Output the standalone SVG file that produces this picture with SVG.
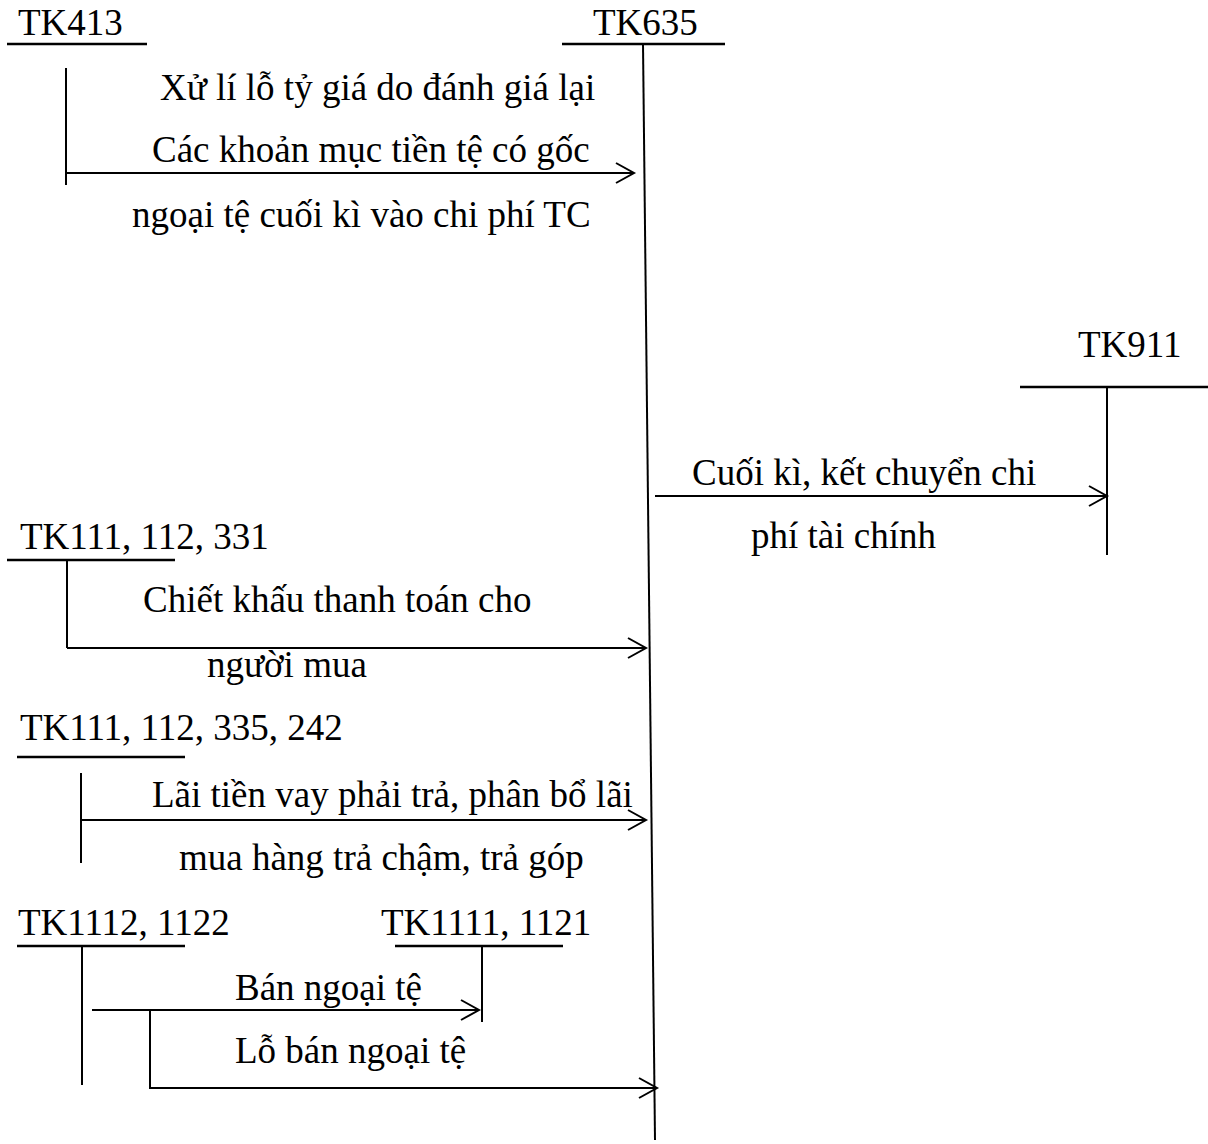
<svg xmlns="http://www.w3.org/2000/svg" width="1208" height="1144" viewBox="0 0 1208 1144">
<style>
text{font-family:"Liberation Serif","Times New Roman",serif;font-size:37px;fill:#000}
.ln{stroke:#000;stroke-width:2;fill:none}
.ul{stroke:#000;stroke-width:2.5;fill:none}
</style>
<defs>
<marker id="arr" markerUnits="userSpaceOnUse" markerWidth="24" markerHeight="24" viewBox="-20 -12 24 24" refX="0" refY="0" orient="auto">
<path d="M-18,-10 L0,0 L-18,10" fill="none" stroke="#000" stroke-width="2"/>
</marker>
</defs>
<rect width="1208" height="1144" fill="#fff"/>
<g id="tk413">
<text x="18" y="35">TK413</text>
<line class="ul" x1="7" y1="44" x2="147" y2="44"/>
<line class="ln" x1="66" y1="68" x2="66" y2="185"/>
</g>
<g id="tk635">
<text x="593" y="35">TK635</text>
<line class="ul" x1="562" y1="44" x2="725" y2="44"/>
<line class="ln" x1="643" y1="44" x2="655" y2="1140"/>
</g>
<g id="tk911">
<text x="1078" y="357">TK911</text>
<line class="ul" x1="1020" y1="387" x2="1208" y2="387"/>
<line class="ln" x1="1107" y1="387" x2="1107" y2="555"/>
</g>
<g id="tk111_112_331">
<text x="20" y="549">TK111, 112, 331</text>
<line class="ul" x1="7" y1="560" x2="175" y2="560"/>
<line class="ln" x1="67" y1="560" x2="67" y2="648"/>
</g>
<g id="tk111_112_335_242">
<text x="20" y="740">TK111, 112, 335, 242</text>
<line class="ul" x1="17" y1="757" x2="185" y2="757"/>
<line class="ln" x1="81" y1="773" x2="81" y2="863"/>
</g>
<g id="tk1112_1122">
<text x="18" y="935">TK1112, 1122</text>
<line class="ul" x1="17" y1="946" x2="185" y2="946"/>
<line class="ln" x1="82" y1="946" x2="82" y2="1085"/>
</g>
<g id="tk1111_1121">
<text x="381" y="935">TK1111, 1121</text>
<line class="ul" x1="395" y1="946" x2="563" y2="946"/>
<line class="ln" x1="482" y1="946" x2="482" y2="1022"/>
</g>
<g id="connectors">
<line class="ln" x1="66" y1="173" x2="634" y2="173" marker-end="url(#arr)"/>
<line class="ln" x1="655" y1="496" x2="1107" y2="496" marker-end="url(#arr)"/>
<line class="ln" x1="67" y1="648" x2="646" y2="648" marker-end="url(#arr)"/>
<line class="ln" x1="81" y1="820" x2="646" y2="820" marker-end="url(#arr)"/>
<line class="ln" x1="92" y1="1010" x2="479" y2="1010" marker-end="url(#arr)"/>
<path class="ln" d="M150,1010 V1088 H657" marker-end="url(#arr)"/>
</g>
<g id="labels">
<text x="160" y="100">Xử lí lỗ tỷ giá do đánh giá lại</text>
<text x="152" y="162">Các khoản mục tiền tệ có gốc</text>
<text x="132" y="227">ngoại tệ cuối kì vào chi phí TC</text>
<text x="692" y="485">Cuối kì, kết chuyển chi</text>
<text x="751" y="548">phí tài chính</text>
<text x="143" y="612">Chiết khấu thanh toán cho</text>
<text x="207" y="677">người mua</text>
<text x="152" y="807">Lãi tiền vay phải trả, phân bổ lãi</text>
<text x="179" y="870">mua hàng trả chậm, trả góp</text>
<text x="235" y="1000">Bán ngoại tệ</text>
<text x="235" y="1063">Lỗ bán ngoại tệ</text>
</g>
</svg>
